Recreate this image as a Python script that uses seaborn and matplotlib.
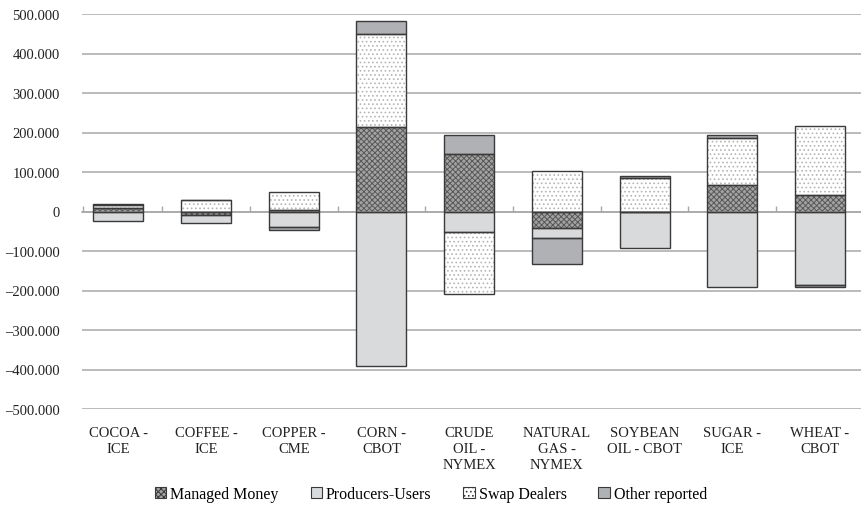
import numpy as np
import matplotlib
matplotlib.use('Agg')
import matplotlib.pyplot as plt
from matplotlib.patches import Patch, Rectangle
from matplotlib.ticker import FuncFormatter, FixedLocator
import seaborn as sns

categories = ['COCOA -\nICE', 'COFFEE -\nICE', 'COPPER -\nCME', 'CORN -\nCBOT',
              'CRUDE\nOIL -\nNYMEX', 'NATURAL\nGAS -\nNYMEX', 'SOYBEAN\nOIL - CBOT',
              'SUGAR -\nICE', 'WHEAT -\nCBOT']
series_names = ['Managed Money', 'Producers-Users', 'Swap Dealers', 'Other reported']
managed_money = [9000, -8500, 4000, 213000, 145000, -42000, 0, 68000, 41000]
producers_users = [-23000, -21000, -40000, -391000, -51000, -26000, -93000, -191000, -187000]
swap_dealers = [7000, 29000, 45000, 237000, -157000, 103000, 86000, 118000, 176000]
other_reported = [4000, 1000, -6000, 33000, 48000, -64000, 3000, 7000, -4000]
y_ticks = [-500000, -400000, -300000, -200000, -100000, 0,
           100000, 200000, 300000, 400000, 500000]

styles = [
    dict(face='#a3a3a3', hatch='xxxxxx', hcol='#585858'),
    dict(face='#d9dadc', hatch=None, hcol='#d9dadc'),
    dict(face='#ffffff', hatch='....', hcol='#b5b5b5'),
    dict(face='#b0b1b4', hatch=None, hcol='#b0b1b4'),
]
EDGE = '#3a3a3a'
GRID = '#a8a8a8'

plt.rcParams['font.family'] = ['Liberation Serif', 'DejaVu Serif']
plt.rcParams['hatch.linewidth'] = 0.7

fig = plt.figure(figsize=(8.62, 5.06), dpi=100)
ax = fig.add_axes([82 / 862, 96 / 506, 780 / 862, 395 / 506])

pos = np.zeros(len(categories))
neg = np.zeros(len(categories))
for vals, st in zip([managed_money, producers_users, swap_dealers, other_reported], styles):
    vals = np.array(vals, dtype=float)
    bottom = np.where(vals >= 0, pos, neg)
    sns.barplot(x=categories, y=vals, bottom=bottom, width=0.57, errorbar=None,
                color=st['face'], saturation=1, ax=ax)
    for p in ax.containers[-1]:
        p.set_facecolor(st['face'])
        p.set_edgecolor(st['hcol'])
        p.set_linewidth(0)
        if st['hatch']:
            p.set_hatch(st['hatch'])
        ax.add_patch(Rectangle(p.get_xy(), p.get_width(), p.get_height(),
                               fill=False, edgecolor=EDGE, linewidth=1.0, zorder=3))
    pos += np.where(vals >= 0, vals, 0)
    neg += np.where(vals < 0, vals, 0)

left = -0.414
ax.set_xlim(left, left + 780 / 87.7)
ax.set_ylim(-500000, 500000)
ax.set_yticks(y_ticks)


def fmt(v, _):
    if v == 0:
        return '0'
    s = f'{abs(v):,.0f}'.replace(',', '.')
    return ('\u2013' if v < 0 else '') + s


ax.yaxis.set_major_formatter(FuncFormatter(fmt))
ax.yaxis.grid(True, color=GRID, linewidth=1.1)
ax.set_axisbelow(True)
for s in ['left', 'right', 'bottom']:
    ax.spines[s].set_visible(False)
ax.spines['top'].set_position(('data', 0))
ax.spines['top'].set_color(GRID)
ax.spines['top'].set_linewidth(1.1)
ax.spines['top'].set_zorder(2.5)

ax.set_xticks(range(len(categories)))
ax.set_xticklabels(categories, linespacing=1.32)
ax.xaxis.set_minor_locator(FixedLocator([left + 0.01] + [i + 0.5 for i in range(8)]))
ax.tick_params(axis='x', which='major', length=0, pad=12, labelsize=10.5,
               labelcolor='#222222', bottom=True, top=False)
ax.tick_params(axis='x', which='minor', top=True, bottom=False, direction='out',
               length=4, color=GRID, width=1)
ax.tick_params(axis='y', length=0, pad=16, labelsize=10.5, labelcolor='#222222')
ax.set_xlabel('')
ax.set_ylabel('')

handles = []
for name, st in zip(series_names, styles):
    handles.append(Patch(facecolor=st['face'], edgecolor=EDGE, linewidth=0.8,
                         hatch=st['hatch'], label=name))
fig.legend(handles=handles, loc='lower center', bbox_to_anchor=(0.5, -0.022), ncol=4,
           frameon=False, fontsize=11.5, handlelength=0.7, handleheight=0.7,
           handletextpad=0.25, columnspacing=2.0)

fig.savefig('out.png', dpi=100)
